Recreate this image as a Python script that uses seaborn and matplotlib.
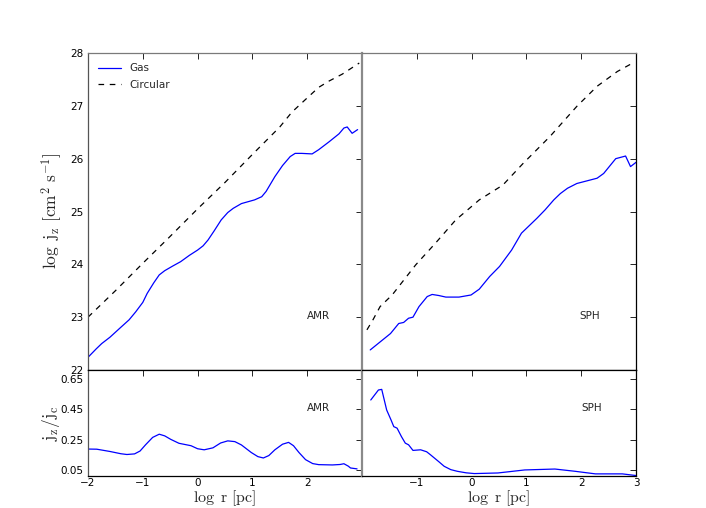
import numpy as np
import pandas as pd
import matplotlib
matplotlib.use("Agg")
import matplotlib.pyplot as plt
import seaborn as sns

# ---- data ----
amr_gas_x = [-2.0, -1.85, -1.75, -1.6, -1.41, -1.25, -1.13, -1.0, -0.92, -0.8, -0.7, -0.6, -0.45, -0.31,
             -0.15, 0.0, 0.1, 0.19, 0.3, 0.43, 0.55, 0.65, 0.8, 1.04, 1.17, 1.25, 1.41, 1.55, 1.69, 1.78,
             1.9, 2.09, 2.21, 2.4, 2.58, 2.67, 2.73, 2.82, 2.92]
amr_gas_y = [22.24, 22.40, 22.50, 22.62, 22.80, 22.95, 23.10, 23.28, 23.45, 23.65, 23.80, 23.88, 23.97, 24.05,
             24.17, 24.27, 24.35, 24.46, 24.63, 24.84, 24.98, 25.06, 25.15, 25.22, 25.28, 25.38, 25.66, 25.87,
             26.04, 26.10, 26.10, 26.09, 26.17, 26.32, 26.47, 26.58, 26.60, 26.48, 26.55]

amr_circ_x = [-2.0, -1.5, -1.0, -0.5, 0.0, 0.5, 1.0, 1.5, 1.72, 2.0, 2.21, 2.4, 2.64, 2.95]
amr_circ_y = [23.0, 23.5, 24.02, 24.53, 25.05, 25.55, 26.08, 26.6, 26.88, 27.15, 27.35, 27.47, 27.6, 27.81]

sph_gas_x = [-1.85, -1.48, -1.33, -1.24, -1.15, -1.07, -0.96, -0.81, -0.72, -0.6, -0.47, -0.23, -0.01, 0.14,
             0.33, 0.51, 0.73, 0.91, 1.19, 1.34, 1.5, 1.62, 1.75, 1.92, 2.29, 2.41, 2.52, 2.63, 2.81, 2.90, 3.0]
sph_gas_y = [22.38, 22.69, 22.88, 22.90, 22.98, 23.00, 23.20, 23.39, 23.43, 23.41, 23.38, 23.38, 23.42, 23.53,
             23.77, 23.96, 24.27, 24.59, 24.87, 25.03, 25.22, 25.34, 25.44, 25.53, 25.63, 25.72, 25.86, 26.00,
             26.05, 25.85, 25.93]

sph_circ_x = [-1.91, -1.8, -1.67, -1.45, -1.02, -0.66, -0.29, -0.04, 0.14, 0.57, 0.94, 1.43, 1.92, 2.29,
              2.66, 2.94]
sph_circ_y = [22.76, 22.95, 23.20, 23.42, 23.99, 24.40, 24.84, 25.06, 25.22, 25.50, 25.91, 26.42, 26.99,
              27.37, 27.65, 27.81]

amr_ratio_x = [-2.0, -1.84, -1.6, -1.4, -1.29, -1.15, -1.05, -0.95, -0.82, -0.7, -0.6, -0.49, -0.34, -0.12,
               0.0, 0.12, 0.28, 0.42, 0.55, 0.68, 0.8, 0.98, 1.1, 1.2, 1.3, 1.41, 1.55, 1.66, 1.75, 1.85,
               1.97, 2.1, 2.21, 2.46, 2.6, 2.67, 2.75, 2.79, 2.91]
amr_ratio_y = [0.188, 0.187, 0.172, 0.157, 0.152, 0.156, 0.175, 0.216, 0.265, 0.286, 0.275, 0.252, 0.226,
               0.210, 0.190, 0.183, 0.196, 0.228, 0.242, 0.237, 0.215, 0.165, 0.138, 0.129, 0.145, 0.183,
               0.220, 0.232, 0.210, 0.165, 0.118, 0.092, 0.085, 0.083, 0.086, 0.091, 0.075, 0.063, 0.057]

sph_ratio_x = [-1.84, -1.70, -1.64, -1.55, -1.47, -1.42, -1.36, -1.28, -1.21, -1.15, -1.07, -0.93, -0.82,
               -0.75, -0.6, -0.5, -0.38, -0.26, -0.1, 0.05, 0.48, 0.97, 1.52, 1.89, 2.26, 2.75, 3.0]
sph_ratio_y = [0.512, 0.578, 0.582, 0.446, 0.380, 0.336, 0.326, 0.270, 0.227, 0.216, 0.179, 0.183, 0.170,
               0.150, 0.105, 0.074, 0.052, 0.041, 0.031, 0.026, 0.030, 0.050, 0.056, 0.041, 0.024, 0.024,
               0.013]

x_ticks = [-2, -1, 0, 1, 2, 3]
top_yticks = [22, 23, 24, 25, 26, 27, 28]
bot_yticks = [0.05, 0.25, 0.45, 0.65]

sns.set_style("white")
plt.rcParams["mathtext.fontset"] = "cm"
plt.rcParams["font.family"] = ["DejaVu Sans"]

W, H = 706, 508
fig = plt.figure(figsize=(W / 100, H / 100), dpi=100)
x0, xm, x1 = 88 / W, 362 / W, 636 / W
yt, ymid, yb = 1 - 53 / H, 1 - 370 / H, 1 - 476 / H

ax_tl = fig.add_axes([x0, ymid, xm - x0, yt - ymid])
ax_tr = fig.add_axes([xm, ymid, x1 - xm, yt - ymid])
ax_bl = fig.add_axes([x0, yb, xm - x0, ymid - yb])
ax_br = fig.add_axes([xm, yb, x1 - xm, ymid - yb])

blue = "#0000ff"
lw = 0.9


def draw(ax, x, y, **kw):
    df = pd.DataFrame({"x": x, "y": y})
    sns.lineplot(data=df, x="x", y="y", ax=ax, estimator=None, sort=False, **kw)


draw(ax_tl, amr_gas_x, amr_gas_y, color=blue, lw=lw, label="Gas")
draw(ax_tl, amr_circ_x, amr_circ_y, color="black", lw=lw, dashes=(4.5, 4.5), label="Circular")
draw(ax_tr, sph_gas_x, sph_gas_y, color=blue, lw=lw)
draw(ax_tr, sph_circ_x, sph_circ_y, color="black", lw=lw, dashes=(4.5, 4.5))
draw(ax_bl, amr_ratio_x, amr_ratio_y, color=blue, lw=lw)
draw(ax_br, sph_ratio_x, sph_ratio_y, color=blue, lw=lw)

for ax in (ax_tl, ax_tr, ax_bl, ax_br):
    ax.set_xlim(-2, 3)
    ax.set_xticks(x_ticks)
    ax.tick_params(direction="in", top=True, right=True, length=4, width=0.6,
                   labelsize=7.5, colors="black", pad=3)
    ax.set_xlabel("")
    ax.set_ylabel("")
    for s in ax.spines.values():
        s.set_color("black")
        s.set_linewidth(0.9)

for ax in (ax_tl, ax_tr):
    ax.set_ylim(22, 28)
    ax.set_yticks(top_yticks)
    ax.tick_params(labelbottom=False)
    ax.spines["top"].set_color("#7a7a7a")
for ax in (ax_bl, ax_br):
    ax.set_ylim(0.01, 0.71)
    ax.set_yticks(bot_yticks)
    ax.set_yticklabels(["0.05", "0.25", "0.45", "0.65"])
for ax in (ax_tr, ax_br):
    ax.tick_params(labelleft=False)
    ax.spines["left"].set_color("#8a8a8a")
    ax.spines["left"].set_linewidth(1.6)
for ax in (ax_tl, ax_bl):
    ax.spines["right"].set_visible(False)
    ax.spines["left"].set_color("#555555")

ax_bl.set_xticklabels(["\u22122", "\u22121", "0", "1", "2", ""])
ax_br.set_xticklabels(["", "\u22121", "0", "1", "2", "3"])
ax_bl.tick_params(axis="x", pad=1.5)
ax_br.tick_params(axis="x", pad=1.5)

label_fs = 11.5
fig.text((x0 + xm) / 2, 1 - 502 / H, r"$\log\ \mathrm{r}\ [\mathrm{pc}]$", fontsize=label_fs,
         ha="center", va="baseline")
fig.text((xm + x1) / 2, 1 - 502 / H, r"$\log\ \mathrm{r}\ [\mathrm{pc}]$", fontsize=label_fs,
         ha="center", va="baseline")
fig.text(52 / W, 1 - 211 / H, r"$\log\ \mathrm{j_z}\ [\mathrm{cm^2\ s^{-1}}]$", rotation=90,
         fontsize=12.5, ha="center", va="center")
fig.text(51 / W, 1 - 423 / H, r"$\mathrm{j_z/j_c}$", rotation=90,
         fontsize=12.5, ha="center", va="center")

ax_tl.text(0.84, 0.17, "AMR", transform=ax_tl.transAxes, fontsize=7.5, ha="center", va="center")
ax_tr.text(0.83, 0.17, "SPH", transform=ax_tr.transAxes, fontsize=7.5, ha="center", va="center")
ax_bl.text(0.84, 0.64, "AMR", transform=ax_bl.transAxes, fontsize=7.5, ha="center", va="center")
ax_br.text(0.84, 0.64, "SPH", transform=ax_br.transAxes, fontsize=7.5, ha="center", va="center")

leg = ax_tl.legend(loc="upper left", frameon=False, fontsize=7.5, handlelength=2.2,
                   borderaxespad=0.6, labelspacing=0.6)

fig.savefig("out.png", dpi=100)
